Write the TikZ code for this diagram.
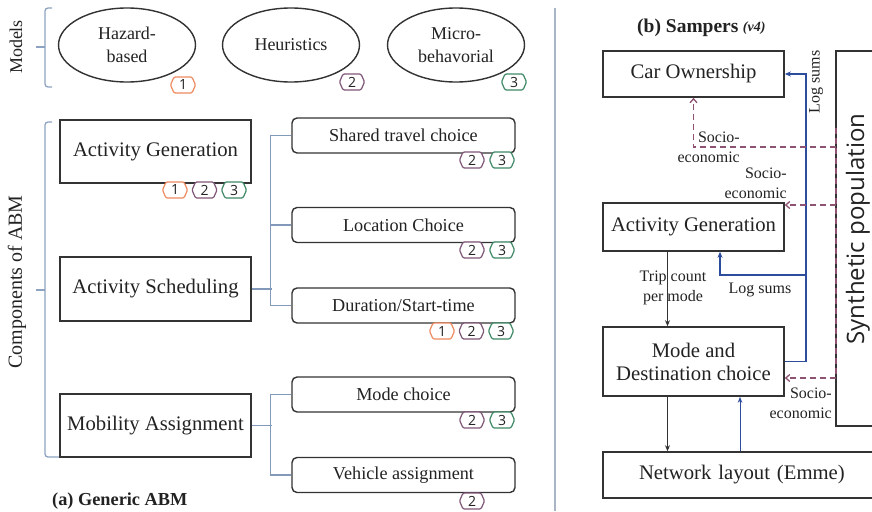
\documentclass[tikz,border=0pt]{standalone}
\usepackage{fontspec}
\setmainfont{Liberation Serif}
\newfontfamily\osans{Open Sans}
\usetikzlibrary{shapes.geometric,arrows.meta,calc}
\definecolor{boxc}{HTML}{333333}
\definecolor{txt}{HTML}{222222}
\definecolor{orangec}{HTML}{EE8A5E}
\definecolor{purplec}{HTML}{7E5577}
\definecolor{greenc}{HTML}{3E8866}
\definecolor{treec}{HTML}{8399BA}
\definecolor{bracec}{HTML}{8EA3C2}
\definecolor{sepc}{HTML}{A9B5C5}
\definecolor{logc}{HTML}{2E4C9C}
\definecolor{socc}{HTML}{8E5272}
% badge: name, position, colour, digit
\newcommand{\bdg}[4]{%
  \draw[line width=1.2pt, draw=#3, fill=white, rounded corners=1.3pt]
    ($(#2)+(-12.5,0)$) -- ++(3.5,-8) -- ++(18,0) -- ++(3.5,8) -- ++(-3.5,8) -- ++(-18,0) -- cycle;
  \node[badgetxt] (#1) at (#2) {#4};}
\begin{document}
\begin{tikzpicture}[x=1pt,y=-1pt,
  box/.style={draw=boxc, line width=1.6pt, inner sep=0pt, text=txt, align=center, font=\fontsize{20.7}{23}\selectfont},
  rbox/.style={draw=boxc, line width=1.4pt, rounded corners=5pt, inner sep=0pt, minimum width=223pt, minimum height=35pt, text=txt, font=\fontsize{18.2}{22}\selectfont},
  ell/.style={ellipse, draw=boxc, line width=1.4pt, inner sep=0pt, minimum width=137pt, minimum height=74pt, align=center, text=txt, font=\fontsize{18}{23}\selectfont},
  badgetxt/.style={inner sep=0pt, text=txt, font=\osans\fontsize{14}{14}\selectfont},
  tree/.style={draw=treec, line width=1.2pt},
  bracket/.style={draw=bracec, line width=1.3pt, rounded corners=3pt},
  small/.style={text=txt, align=center, inner sep=0pt, font=\fontsize{16}{20}\selectfont},
  flow/.style={draw=boxc, line width=1.1pt, -{Stealth[length=6pt,width=5pt]}},
  logsum/.style={draw=logc, line width=1.6pt, -{Stealth[length=6pt,width=5pt]}},
  thinblue/.style={draw=logc, line width=0.9pt, -{Stealth[length=6pt,width=4.5pt]}},
  socio/.style={draw=socc, line width=1.3pt, dash pattern=on 6pt off 4pt, -{Straight Barb[length=4pt,width=7pt]}},
  sociol/.style={draw=socc, line width=1.3pt, dash pattern=on 6pt off 4pt},
]
\useasboundingbox (0,0) rectangle (872,511);

% ---------- left panel ----------
\node[text=txt, rotate=90, font=\fontsize{18}{18}\selectfont] (tmodels) at (16,47) {Models};
\draw[bracket] (52,8) -- (45,8) -- (45,87) -- (52,87);
\draw[bracket, rounded corners=0pt] (45,47) -- (36,47);

\node[ell] (e1) at (127,45) {Hazard-\\based};
\node[ell] (e2) at (291,45) {Heuristics};
\node[ell] (e3) at (456,45) {Micro-\\behavorial};

\node[text=txt, rotate=90, font=\fontsize{20}{20}\selectfont] (tcomp) at (17,282) {Components of ABM};
\draw[bracket] (52,122) -- (45,122) -- (45,457) -- (59,457);
\draw[bracket, rounded corners=0pt] (45,290) -- (36,290);

\node[box, minimum width=191pt, minimum height=63pt] (lag) at (155.5,151.5) {Activity Generation};
\node[box, minimum width=191pt, minimum height=64pt] (las) at (155.5,289) {Activity Scheduling};
\node[box, minimum width=191pt, minimum height=63pt] (lma) at (155.5,425.5) {Mobility Assignment};

\node[rbox] (rst) at (403.5,135.5) {Shared travel choice};
\node[rbox] (rlc) at (403.5,225) {Location Choice};
\node[rbox] (rds) at (403.5,305.5) {Duration/Start-time};
\node[rbox] (rmc) at (403.5,394.5) {Mode choice};
\node[rbox] (rva) at (403.5,475) {Vehicle assignment};

\draw[tree] (las.east) -- ++(20.5,0);
\draw[tree] (rst.west) -- ++(-20.5,0) |- (rds.west);
\draw[tree] (rlc.west) -- ++(-20.5,0);
\draw[tree] (lma.east) -- ++(20.5,0);
\draw[tree] (rmc.west) -- ++(-20.5,0) |- (rva.west);

% badges
\bdg{be1}{183,85}{orangec}{1}
\bdg{be2}{352,82}{purplec}{2}
\bdg{be3}{514,82}{greenc}{3}

\bdg{bag1}{175,190}{orangec}{1}
\bdg{bag2}{204.5,190}{purplec}{2}
\bdg{bag3}{234,190}{greenc}{3}

\bdg{bst2}{472,160}{purplec}{2}
\bdg{bst3}{502,160}{greenc}{3}
\bdg{blc2}{472,250}{purplec}{2}
\bdg{blc3}{502,250}{greenc}{3}
\bdg{bds1}{442,331}{orangec}{1}
\bdg{bds2}{471.5,331}{purplec}{2}
\bdg{bds3}{501,331}{greenc}{3}
\bdg{bmc2}{472,420}{purplec}{2}
\bdg{bmc3}{502,420}{greenc}{3}
\bdg{bva2}{472,501}{purplec}{2}

\node[anchor=west, text=txt, inner sep=0pt, font=\bfseries\fontsize{18.3}{18.3}\selectfont] (ta) at (52,501) {(a) Generic ABM};

% separator
\draw[draw=sepc, line width=1.8pt] (555,8) -- (555,511);

% ---------- right panel ----------
\node[anchor=west, text=txt, inner sep=0pt, font=\bfseries\fontsize{19.5}{19.5}\selectfont] (tb) at (637,28) {(b) Sampers};
\node[anchor=west, text=txt, inner sep=0pt, font=\bfseries\itshape\fontsize{14}{14}\selectfont] (tv) at ([xshift=4pt]tb.east) {(v4)};

\node[box, minimum width=181pt, minimum height=46pt] (co) at (693.5,74) {Car Ownership};
\node[box, minimum width=181pt, minimum height=48pt] (rag) at (693.5,227) {Activity Generation};
\node[box, minimum width=181pt, minimum height=69pt] (md) at (693.5,361.5) {Mode and\\Destination choice};
\node[box, minimum width=277pt, minimum height=46pt, text width=273pt, align=left] (nl) at (741.5,475) {\hspace*{34pt}Network layout (Emme)};
\node[box, minimum width=64pt, minimum height=375pt] (sp) at (868,238.5) {};
\node[text=txt, rotate=90, inner sep=0pt, font=\osans\fontsize{24}{24}\selectfont] (spt) at (858,229) {Synthetic population};

% log sums
\draw[logsum] (md.east) -- ++(21,0) coordinate (lsc) |- (co.east);
\coordinate (lsb) at (805,275);
\draw[logsum] (lsb) -| ([xshift=26.5pt]rag.south);
\node[small, rotate=90] (tls1) at (816,82) {Log sums};
\node[small] (tls2) at (760,290) {Log sums};

% socio-economic
\coordinate (s1) at (836,147);
\coordinate (s2) at (836,205);
\coordinate (s3) at (836,378);
\draw[sociol] (836,128) -- (s3);
\draw[socio] (s1) -| (co.south);
\draw[socio] (s2) -- (s2 -| rag.east);
\draw[socio] (s3) -- (s3 -| md.east);
\node[small, align=right, anchor=east] (tse1) at (740,147) {Socio-\\economic};
\node[small, align=right, anchor=east] (tse2) at (787,183) {Socio-\\economic};
\node[small, align=right, anchor=east] (tse3) at (832,403) {Socio-\\economic};

% flows
\draw[flow] ([xshift=-26pt]rag.south) -- ([xshift=-26pt]md.north);
\node[small] (ttc) at (673,288) {Trip count\\per mode};
\draw[flow] ([xshift=-26pt]md.south) -- ([xshift=-26pt]md.south |- nl.north);
\draw[thinblue] ([xshift=46.5pt]md.south |- nl.north) -- ([xshift=46.5pt]md.south);
\end{tikzpicture}
\end{document}
